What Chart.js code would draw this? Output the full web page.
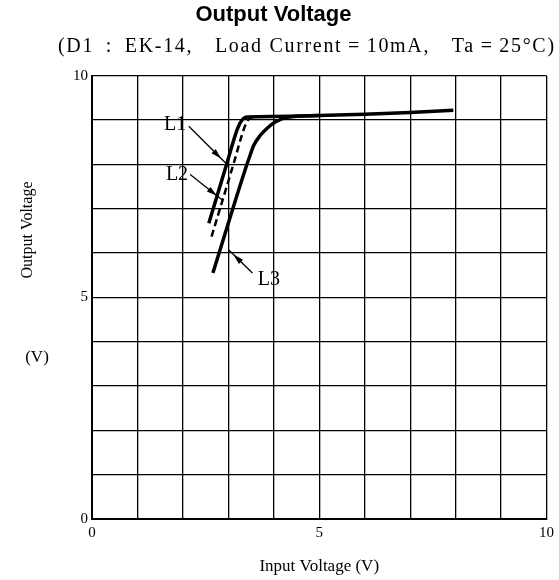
<!DOCTYPE html>
<html>
<head>
<meta charset="utf-8">
<script src="https://cdn.jsdelivr.net/npm/chart.js@4"></script>
<style>
html,body{margin:0;padding:0;background:#fff;}
#wrap{width:559px;height:580px;position:relative;}
</style>
</head>
<body>
<div id="wrap"><canvas id="c" width="559" height="580"></canvas></div>
<script>
// ---- data ----
const xTickLabels = [0, 5, 10];
const yTickLabels = [0, 5, 10];

const l1X = [2.57, 2.97, 3.20, 3.30, 3.42, 4.00, 5.00, 6.00, 7.00, 7.95];
const l1Y = [6.67, 8.03, 8.80, 9.00, 9.07, 9.08, 9.10, 9.13, 9.17, 9.22];

const l2X = [2.63, 3.12, 3.36, 3.45, 3.60];
const l2Y = [6.37, 8.03, 8.85, 9.02, 9.07];

const l3X = [2.66, 3.37, 3.45, 3.56, 3.70, 3.86, 4.04, 4.30, 5.00];
const l3Y = [5.55, 7.88, 8.12, 8.43, 8.65, 8.82, 8.96, 9.06, 9.10];

const noteText = ['L1', 'L2', 'L3'];
const noteX = [1.83, 1.87, 3.89];
const noteY = [8.89, 7.77, 5.40];
const arrowFromX = [2.13, 2.16, 3.53];
const arrowFromY = [8.86, 7.77, 5.55];
const arrowToX = [2.94, 2.86, 3.01];
const arrowToY = [8.03, 7.20, 6.07];

const titleText = 'Output Voltage';
const subtitleText = '(D1\u2002:\u2002EK-14,\u2003Load Current\u2009=\u200910mA,\u2003Ta\u2009=\u200925°C)';
const xTitle = 'Input Voltage (V)';
const yTitle = 'Output Voltage';
const yUnit = '(V)';

const pts = (xs, ys) => xs.map((x, i) => ({x: x, y: ys[i]}));

const serif = '"Liberation Serif", "DejaVu Serif", serif';

const extras = {
  id: 'extras',
  afterDraw(chart) {
    const ctx = chart.ctx;
    const xs = chart.scales.x, ys = chart.scales.y;
    ctx.save();
    ctx.fillStyle = '#000';
    ctx.strokeStyle = '#000';
    // subtitle, stretched to the reference width
    ctx.font = '20px ' + serif;
    ctx.textAlign = 'center';
    ctx.textBaseline = 'middle';
    const natural = ctx.measureText(subtitleText).width;
    const target = 498;
    const sp = Math.max(0, (target - natural) / subtitleText.length);
    try { ctx.letterSpacing = sp.toFixed(2) + 'px'; } catch (e) {}
    ctx.fillText(subtitleText, 306 + sp / 2, 47);
    try { ctx.letterSpacing = '0px'; } catch (e) {}
    // y title
    ctx.save();
    ctx.translate(28, 230);
    ctx.rotate(-Math.PI / 2);
    ctx.font = '16px ' + serif;
    ctx.fillText(yTitle, 0, 0);
    ctx.restore();
    ctx.font = '17px ' + serif;
    ctx.fillText(yUnit, 37, 358);
    // annotations
    ctx.font = '20px ' + serif;
    for (let i = 0; i < noteText.length; i++) {
      ctx.fillText(noteText[i], xs.getPixelForValue(noteX[i]), ys.getPixelForValue(noteY[i]));
      const x1 = xs.getPixelForValue(arrowFromX[i]), y1 = ys.getPixelForValue(arrowFromY[i]);
      const x2 = xs.getPixelForValue(arrowToX[i]), y2 = ys.getPixelForValue(arrowToY[i]);
      ctx.lineWidth = 1.3;
      ctx.beginPath();
      ctx.moveTo(x1, y1);
      ctx.lineTo(x2, y2);
      ctx.stroke();
      const a = Math.atan2(y2 - y1, x2 - x1);
      const hx = x2 - 9 * Math.cos(a), hy = y2 - 9 * Math.sin(a);
      ctx.beginPath();
      ctx.moveTo(hx + 2.5 * Math.cos(a), hy + 2.5 * Math.sin(a));
      ctx.lineTo(hx - 8 * Math.cos(a) + 3 * Math.sin(a), hy - 8 * Math.sin(a) - 3 * Math.cos(a));
      ctx.lineTo(hx - 8 * Math.cos(a) - 3 * Math.sin(a), hy - 8 * Math.sin(a) + 3 * Math.cos(a));
      ctx.closePath();
      ctx.fill();
    }
    ctx.restore();
  }
};

new Chart(document.getElementById('c'), {
  type: 'line',
  data: {
    datasets: [
      {label: 'L1', data: pts(l1X, l1Y), borderColor: '#000', borderWidth: 3.5, pointRadius: 0, cubicInterpolationMode: 'monotone', fill: false},
      {label: 'L2', data: pts(l2X, l2Y), borderColor: '#000', borderWidth: 2.5, borderDash: [7, 4], pointRadius: 0, cubicInterpolationMode: 'monotone', fill: false},
      {label: 'L3', data: pts(l3X, l3Y), borderColor: '#000', borderWidth: 3.5, pointRadius: 0, cubicInterpolationMode: 'monotone', fill: false}
    ]
  },
  options: {
    responsive: false,
    animation: false,
    layout: {padding: {left: 0, right: 12, top: 0, bottom: 0}},
    plugins: {
      legend: {display: false},
      tooltip: {enabled: false},
      title: {
        display: true,
        text: titleText,
        color: '#000',
        font: {family: '"Liberation Sans", Arial, sans-serif', size: 22, weight: 'bold', lineHeight: 1.2},
        padding: {top: 2, bottom: 47.3}
      }
    },
    scales: {
      x: {
        type: 'linear', min: 0, max: 10,
        afterFit(s) { s.height = 61; },
        ticks: {
          stepSize: 1, color: '#000', padding: 5, maxRotation: 0,
          font: {family: serif, size: 15},
          callback: v => xTickLabels.includes(v) ? String(v) : ''
        },
        grid: {color: '#000', lineWidth: 1.3, drawTicks: false},
        border: {color: '#000', width: 2},
        title: {display: true, text: xTitle, color: '#000', font: {family: serif, size: 17}, padding: {top: 0, bottom: 3}}
      },
      y: {
        type: 'linear', min: 0, max: 10,
        afterFit(s) { s.width = 92; },
        ticks: {
          stepSize: 1, color: '#000', padding: 4,
          font: {family: serif, size: 15},
          callback: v => yTickLabels.includes(v) ? String(v) : ''
        },
        grid: {color: '#000', lineWidth: 1.3, drawTicks: false},
        border: {color: '#000', width: 2}
      }
    }
  },
  plugins: [extras]
});
</script>
</body>
</html>
